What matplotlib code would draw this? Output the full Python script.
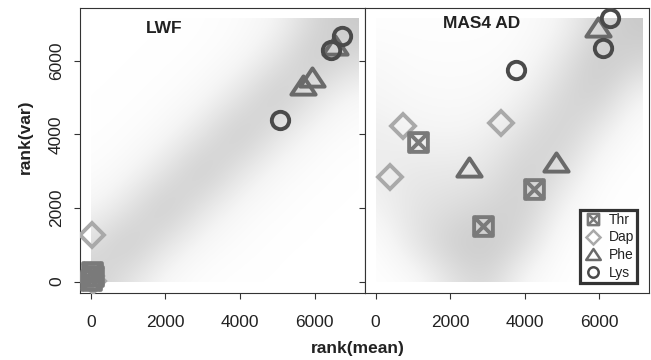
import numpy as np
import matplotlib
matplotlib.use("Agg")
import matplotlib.pyplot as plt
from matplotlib.path import Path
from matplotlib.lines import Line2D
from matplotlib.patches import Rectangle
from matplotlib.colors import LinearSegmentedColormap

plt.rcParams['font.family'] = ['Liberation Sans', 'DejaVu Sans']

# background cloud, density read by eye on a 1000-rank grid
# rows = rank(var) 0..7000 (bottom to top), cols = rank(mean) 0..7000
gridRanks = [0, 1000, 2000, 3000, 4000, 5000, 6000, 7000]
lwfCloud = [
    [3.5, 2.0, 0.5, 0.1, 0.0, 0.0, 0.0, 0.0],
    [2.5, 4.0, 2.0, 0.6, 0.2, 0.0, 0.0, 0.0],
    [0.8, 2.2, 4.0, 2.0, 0.6, 0.2, 0.0, 0.0],
    [0.2, 0.7, 2.2, 4.0, 2.0, 0.6, 0.2, 0.0],
    [0.05, 0.2, 0.7, 2.2, 4.0, 2.0, 0.6, 0.2],
    [0.0, 0.05, 0.2, 0.7, 2.2, 4.0, 2.0, 0.6],
    [0.0, 0.0, 0.05, 0.2, 0.7, 2.2, 4.0, 2.5],
    [0.0, 0.0, 0.0, 0.05, 0.3, 1.0, 3.0, 4.0],
]
masCloud = [
    [0.0, 0.2, 2.0, 3.0, 0.5, 0.0, 0.0, 0.0],
    [0.1, 2.0, 3.5, 4.0, 2.5, 0.1, 0.0, 0.0],
    [1.0, 2.2, 2.5, 3.0, 3.5, 1.0, 0.0, 0.0],
    [1.5, 1.8, 1.8, 2.0, 3.5, 2.5, 0.3, 0.0],
    [1.5, 1.2, 1.0, 1.3, 2.5, 3.5, 1.5, 0.1],
    [1.0, 0.6, 0.5, 0.6, 1.3, 3.0, 3.5, 0.8],
    [0.6, 0.3, 0.3, 0.3, 0.6, 2.0, 4.0, 3.0],
    [0.1, 0.1, 0.1, 0.1, 0.3, 1.0, 3.0, 4.0],
]
maxRank = 7150

# highlighted residues, LWF panel
lwfThrX = [20, 50, 40];       lwfThrY = [50, 150, 260]
lwfDapX = [30, 60, 20];       lwfDapY = [1270, 10, 150]
lwfPheX = [5685, 5925, 6530]; lwfPheY = [5330, 5563, 6420]
lwfLysX = [5080, 6720, 6445]; lwfLysY = [4390, 6675, 6290]

# highlighted residues, MAS4 AD panel
masThrX = [1150, 4245, 2880]; masThrY = [3800, 2515, 1520]
masDapX = [745, 3375, 385];   masDapY = [4225, 4300, 2850]
masPheX = [5965, 2495, 4855]; masPheY = [6920, 3120, 3255]
masLysX = [3770, 6110, 6290]; masLysY = [5745, 6335, 7150]

tickVals = [0, 2000, 4000, 6000]
legendNames = ['Thr', 'Dap', 'Phe', 'Lys']

# R-like markers: square with a cross, and a wide triangle
boxX = Path([(-1, -1), (1, -1), (1, 1), (-1, 1), (-1, -1),
             (-1, -1), (1, 1), (-1, 1), (1, -1)],
            [Path.MOVETO, Path.LINETO, Path.LINETO, Path.LINETO, Path.CLOSEPOLY,
             Path.MOVETO, Path.LINETO, Path.MOVETO, Path.LINETO])
tri = Path([(-1, -0.75), (1, -0.75), (0, 0.75), (-1, -0.75)],
           [Path.MOVETO, Path.LINETO, Path.LINETO, Path.CLOSEPOLY])

styles = {
    'Thr': dict(marker=boxX, ms=13.5, color='#7a7a7a'),
    'Dap': dict(marker='D', ms=11.8, color='#a9a9a9'),
    'Phe': dict(marker=tri, ms=17.5, color='#6a6a6a'),
    'Lys': dict(marker='o', ms=12.5, color='#4a4a4a'),
}

# light speckle -> near solid grey, sparse parts stay almost white
cloudCmap = LinearSegmentedColormap.from_list(
    'cloud', [(0.0, '#ffffff'), (0.25, '#f5f5f5'), (0.5, '#e6e6e6'),
              (0.75, '#d6d6d6'), (1.0, '#c8c8c8')])

fig = plt.figure(figsize=(6.51, 3.6), dpi=100)
axL = fig.add_axes([80/651, 67/360, 285/651, 285/360])
axR = fig.add_axes([365/651, 67/360, 284/651, 285/360])


def drawPanel(ax, cloud, pts, title, tx, ty):
    im = ax.imshow(np.array(cloud), origin='lower', cmap=cloudCmap, vmin=0, vmax=4,
                   extent=[-500, 7500, -500, 7500], interpolation='bicubic',
                   aspect='auto', zorder=0)
    im.set_clip_path(Rectangle((0, 0), maxRank, maxRank, transform=ax.transData))
    for name in ['Dap', 'Thr', 'Phe', 'Lys']:
        xs, ys = pts[name]
        st = styles[name]
        ax.plot(xs, ys, ls='none', marker=st['marker'], ms=st['ms'],
                mfc='none', mec=st['color'], mew=2.8, zorder=3)
    ax.text(tx, ty, title, fontsize=12.5, fontweight='bold', ha='center',
            va='center', color='#222222')
    ax.set_xlim(-287, 7345)
    ax.set_ylim(-307, 7427)
    ax.set_xticks(tickVals)
    ax.set_yticks(tickVals)
    ax.tick_params(direction='out', length=4, width=0.8, color='#333333',
                   labelsize=12.5, labelcolor='#222222')
    ax.tick_params(axis='x', pad=12)
    ax.tick_params(axis='y', pad=7.5)
    for sp in ax.spines.values():
        sp.set_color('#333333')
        sp.set_linewidth(0.8)


drawPanel(axL, lwfCloud,
          {'Thr': (lwfThrX, lwfThrY), 'Dap': (lwfDapX, lwfDapY),
           'Phe': (lwfPheX, lwfPheY), 'Lys': (lwfLysX, lwfLysY)},
          'LWF', 1960, 6860)
drawPanel(axR, masCloud,
          {'Thr': (masThrX, masThrY), 'Dap': (masDapX, masDapY),
           'Phe': (masPheX, masPheY), 'Lys': (masLysX, masLysY)},
          'MAS4 AD', 2850, 7005)

for lab in axL.get_yticklabels():
    lab.set_rotation(90)
    lab.set_va('center')
axR.set_yticklabels([])

# legend with small markers
handles = []
for name in legendNames:
    st = styles[name]
    handles.append(Line2D([], [], ls='none', marker=st['marker'], ms=st['ms'] * 0.6,
                          mfc='none', mec=st['color'], mew=1.8))
leg = axR.legend(handles, legendNames, loc='lower right',
                 bbox_to_anchor=(0.958, 0.035), borderaxespad=0, fontsize=10,
                 frameon=True, fancybox=False, handlelength=1.4,
                 handletextpad=0.45, labelspacing=0.28, borderpad=0.2)
leg.get_frame().set_edgecolor('black')
leg.get_frame().set_linewidth(2.3)
for t in leg.get_texts():
    t.set_color('#222222')

fig.text(25/651, 1 - 137/360, 'rank(var)', rotation=90, fontsize=12.5,
         fontweight='bold', ha='center', va='center', color='#222222')
fig.text(358/651, 1 - 349/360, 'rank(mean)', fontsize=12.5,
         fontweight='bold', ha='center', va='center', color='#222222')

fig.savefig('out.png', dpi=100)
